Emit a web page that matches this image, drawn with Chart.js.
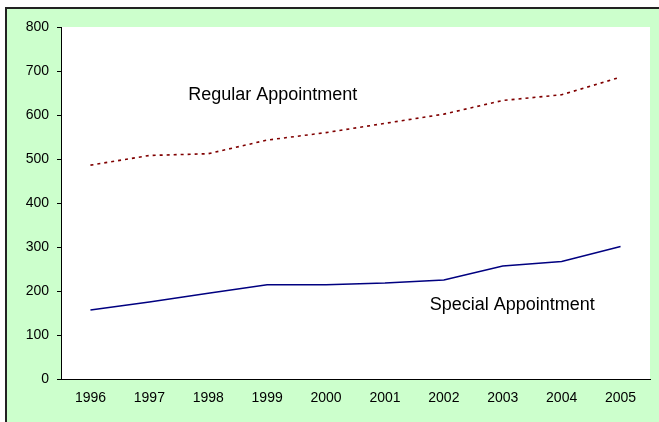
<!DOCTYPE html>
<html>
<head>
<meta charset="utf-8">
<script src="https://cdn.jsdelivr.net/npm/chart.js@4.4.0/dist/chart.umd.min.js"></script>
<style>
  html, body { margin: 0; padding: 0; background: #ffffff; overflow: hidden; }
  #frame { position: absolute; left: 5px; top: 7px; width: 720px; height: 480px;
           background: #CCFFCC; border: 2px solid #222; }
  #wrap { position: absolute; left: 0; top: 0; width: 659px; height: 422px; }
</style>
</head>
<body>
<div id="frame"></div>
<div id="wrap"><canvas id="c" width="659" height="422"></canvas></div>
<script>
const years = ["1996","1997","1998","1999","2000","2001","2002","2003","2004","2005"];
const regularAppointment = [486, 508, 512, 543, 560, 581, 602, 633, 646, 686];
const specialAppointment = [157, 175, 195, 214, 214, 218, 225, 257, 267, 301];
const yTicks = [0, 100, 200, 300, 400, 500, 600, 700, 800];
const seriesLabels = ["Regular Appointment", "Special Appointment"];

const plotBg = {
  id: 'plotBg',
  beforeDraw(chart) {
    const {ctx, chartArea: a} = chart;
    ctx.save();
    ctx.fillStyle = '#ffffff';
    ctx.fillRect(a.left, a.top, a.right - a.left, a.bottom - a.top);
    ctx.restore();
  }
};

const textLabels = {
  id: 'textLabels',
  afterDatasetsDraw(chart, args, opts) {
    const {ctx, scales} = chart;
    ctx.save();
    ctx.font = '18px "Liberation Sans", Arial, sans-serif';
    ctx.fillStyle = '#000000';
    ctx.textAlign = 'left';
    ctx.textBaseline = 'middle';
    opts.items.forEach(it => {
      ctx.fillText(it.text, scales.x.getPixelForValue(it.x), scales.y.getPixelForValue(it.y));
    });
    ctx.restore();
  }
};

new Chart(document.getElementById('c'), {
  type: 'line',
  data: {
    labels: years,
    datasets: [
      { label: seriesLabels[0], data: regularAppointment, borderColor: '#800000',
        borderWidth: 1.6, borderDash: [3, 4], pointRadius: 0, tension: 0, fill: false },
      { label: seriesLabels[1], data: specialAppointment, borderColor: '#000080',
        borderWidth: 1.5, pointRadius: 0, tension: 0, fill: false }
    ]
  },
  options: {
    responsive: false,
    animation: false,
    devicePixelRatio: 1,
    layout: { padding: { left: 0, top: 27, right: 9, bottom: 0 } },
    plugins: {
      legend: { display: false },
      tooltip: { enabled: false },
      textLabels: { items: [
        { text: seriesLabels[0], x: 1.66, y: 645 },
        { text: seriesLabels[1], x: 5.76, y: 168 }
      ] }
    },
    scales: {
      x: {
        offset: true,
        grid: { display: true, drawOnChartArea: false, drawTicks: false, color: '#000' },
        border: { display: true, color: '#000', width: 1 },
        ticks: { color: '#000', padding: 11, maxRotation: 0, autoSkip: false,
                 font: { family: '"Liberation Sans", Arial, sans-serif', size: 14 } },
        afterFit(s) { s.height = 43; }
      },
      y: {
        min: 0, max: 800,
        afterBuildTicks(s) { s.ticks = yTicks.map(v => ({ value: v })); },
        grid: { display: true, drawOnChartArea: false, drawTicks: true, tickLength: 4, color: '#000' },
        border: { display: true, color: '#000', width: 1 },
        ticks: { color: '#000', padding: 8,
                 font: { family: '"Liberation Sans", Arial, sans-serif', size: 14 } },
        afterFit(s) { s.width = 61; }
      }
    }
  },
  plugins: [plotBg, textLabels]
});
</script>
</body>
</html>
